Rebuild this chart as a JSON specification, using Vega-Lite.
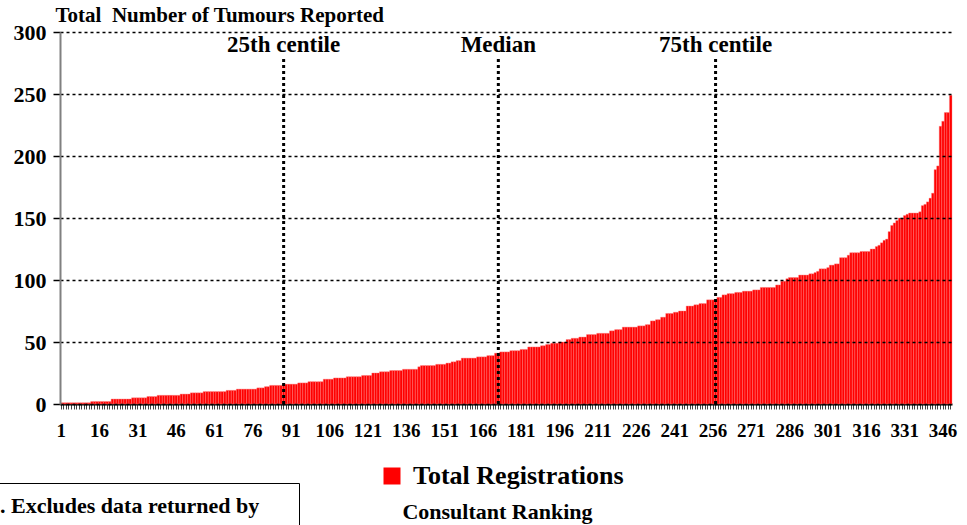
{
"$schema": "https://vega.github.io/schema/vega-lite/v6.json",
"width": 892, "height": 372,
"autosize": {"type": "none"},
"padding": {"left": 60, "top": 32, "right": 15, "bottom": 121},
"background": "white",
"config": {"view": {"stroke": null}, "font": "Liberation Serif"},
"datasets": {
"reg": [
{"rank":1,"total":1},{"rank":2,"total":1},{"rank":3,"total":1},{"rank":4,"total":1},{"rank":5,"total":1},{"rank":6,"total":1},{"rank":7,"total":1},{"rank":8,"total":1},{"rank":9,"total":1},{"rank":10,"total":1},{"rank":11,"total":1},{"rank":12,"total":1},
{"rank":13,"total":2},{"rank":14,"total":2},{"rank":15,"total":2},{"rank":16,"total":2},{"rank":17,"total":2},{"rank":18,"total":2},{"rank":19,"total":2},{"rank":20,"total":2},
{"rank":21,"total":4},{"rank":22,"total":4},{"rank":23,"total":4},{"rank":24,"total":4},{"rank":25,"total":4},{"rank":26,"total":4},{"rank":27,"total":4},{"rank":28,"total":4},
{"rank":29,"total":5},{"rank":30,"total":5},{"rank":31,"total":5},{"rank":32,"total":5},{"rank":33,"total":5},{"rank":34,"total":5},
{"rank":35,"total":6},{"rank":36,"total":6},{"rank":37,"total":6},{"rank":38,"total":6},
{"rank":39,"total":7},{"rank":40,"total":7},{"rank":41,"total":7},{"rank":42,"total":7},{"rank":43,"total":7},{"rank":44,"total":7},{"rank":45,"total":7},{"rank":46,"total":7},{"rank":47,"total":7},
{"rank":48,"total":8},{"rank":49,"total":8},{"rank":50,"total":8},{"rank":51,"total":8},
{"rank":52,"total":9},{"rank":53,"total":9},{"rank":54,"total":9},{"rank":55,"total":9},{"rank":56,"total":9},
{"rank":57,"total":10},{"rank":58,"total":10},{"rank":59,"total":10},{"rank":60,"total":10},{"rank":61,"total":10},{"rank":62,"total":10},{"rank":63,"total":10},{"rank":64,"total":10},{"rank":65,"total":10},
{"rank":66,"total":11},{"rank":67,"total":11},{"rank":68,"total":11},{"rank":69,"total":11},
{"rank":70,"total":12},{"rank":71,"total":12},{"rank":72,"total":12},{"rank":73,"total":12},{"rank":74,"total":12},{"rank":75,"total":12},{"rank":76,"total":12},{"rank":77,"total":12},
{"rank":78,"total":13},{"rank":79,"total":13},{"rank":80,"total":13},
{"rank":81,"total":14},{"rank":82,"total":14},
{"rank":83,"total":15},{"rank":84,"total":15},{"rank":85,"total":15},{"rank":86,"total":15},{"rank":87,"total":15},
{"rank":88,"total":16},{"rank":89,"total":16},{"rank":90,"total":16},{"rank":91,"total":16},{"rank":92,"total":16},{"rank":93,"total":16},
{"rank":94,"total":17},{"rank":95,"total":17},{"rank":96,"total":17},{"rank":97,"total":17},
{"rank":98,"total":18},{"rank":99,"total":18},{"rank":100,"total":18},{"rank":101,"total":18},{"rank":102,"total":18},{"rank":103,"total":18},
{"rank":104,"total":20},{"rank":105,"total":20},{"rank":106,"total":20},{"rank":107,"total":20},
{"rank":108,"total":21},{"rank":109,"total":21},{"rank":110,"total":21},{"rank":111,"total":21},{"rank":112,"total":21},
{"rank":113,"total":22},{"rank":114,"total":22},{"rank":115,"total":22},{"rank":116,"total":22},{"rank":117,"total":22},{"rank":118,"total":22},
{"rank":119,"total":23},{"rank":120,"total":23},{"rank":121,"total":23},{"rank":122,"total":23},
{"rank":123,"total":25},{"rank":124,"total":25},{"rank":125,"total":25},
{"rank":126,"total":26},{"rank":127,"total":26},{"rank":128,"total":26},{"rank":129,"total":26},
{"rank":130,"total":27},{"rank":131,"total":27},{"rank":132,"total":27},{"rank":133,"total":27},{"rank":134,"total":27},
{"rank":135,"total":28},{"rank":136,"total":28},{"rank":137,"total":28},{"rank":138,"total":28},{"rank":139,"total":28},{"rank":140,"total":28},
{"rank":141,"total":30},
{"rank":142,"total":31},{"rank":143,"total":31},{"rank":144,"total":31},{"rank":145,"total":31},{"rank":146,"total":31},{"rank":147,"total":31},
{"rank":148,"total":32},{"rank":149,"total":32},{"rank":150,"total":32},{"rank":151,"total":32},
{"rank":152,"total":33},{"rank":153,"total":33},
{"rank":154,"total":34},{"rank":155,"total":34},
{"rank":156,"total":35},{"rank":157,"total":35},
{"rank":158,"total":37},{"rank":159,"total":37},{"rank":160,"total":37},{"rank":161,"total":37},{"rank":162,"total":37},{"rank":163,"total":37},
{"rank":164,"total":38},{"rank":165,"total":38},{"rank":166,"total":38},{"rank":167,"total":38},
{"rank":168,"total":39},{"rank":169,"total":39},{"rank":170,"total":39},
{"rank":171,"total":41},{"rank":172,"total":41},
{"rank":173,"total":42},{"rank":174,"total":42},{"rank":175,"total":42},{"rank":176,"total":42},
{"rank":177,"total":43},{"rank":178,"total":43},{"rank":179,"total":43},{"rank":180,"total":43},
{"rank":181,"total":44},{"rank":182,"total":44},{"rank":183,"total":44},
{"rank":184,"total":46},{"rank":185,"total":46},{"rank":186,"total":46},{"rank":187,"total":46},{"rank":188,"total":46},
{"rank":189,"total":47},{"rank":190,"total":47},
{"rank":191,"total":48},{"rank":192,"total":48},
{"rank":193,"total":49},{"rank":194,"total":49},{"rank":195,"total":49},
{"rank":196,"total":50},{"rank":197,"total":50},{"rank":198,"total":50},
{"rank":199,"total":52},{"rank":200,"total":52},
{"rank":201,"total":53},{"rank":202,"total":53},{"rank":203,"total":53},
{"rank":204,"total":54},{"rank":205,"total":54},{"rank":206,"total":54},
{"rank":207,"total":56},{"rank":208,"total":56},{"rank":209,"total":56},{"rank":210,"total":56},
{"rank":211,"total":57},{"rank":212,"total":57},{"rank":213,"total":57},{"rank":214,"total":57},{"rank":215,"total":57},
{"rank":216,"total":59},{"rank":217,"total":59},
{"rank":218,"total":60},{"rank":219,"total":60},{"rank":220,"total":60},
{"rank":221,"total":62},{"rank":222,"total":62},{"rank":223,"total":62},{"rank":224,"total":62},{"rank":225,"total":62},{"rank":226,"total":62},
{"rank":227,"total":63},{"rank":228,"total":63},{"rank":229,"total":63},
{"rank":230,"total":64},{"rank":231,"total":64},
{"rank":232,"total":67},{"rank":233,"total":67},
{"rank":234,"total":68},{"rank":235,"total":68},
{"rank":236,"total":70},{"rank":237,"total":70},
{"rank":238,"total":73},{"rank":239,"total":73},{"rank":240,"total":73},
{"rank":241,"total":74},{"rank":242,"total":74},
{"rank":243,"total":75},{"rank":244,"total":75},{"rank":245,"total":75},
{"rank":246,"total":79},{"rank":247,"total":79},{"rank":248,"total":79},
{"rank":249,"total":80},{"rank":250,"total":80},
{"rank":251,"total":81},{"rank":252,"total":81},{"rank":253,"total":81},
{"rank":254,"total":84},{"rank":255,"total":84},{"rank":256,"total":84},{"rank":257,"total":84},
{"rank":258,"total":86},{"rank":259,"total":86},
{"rank":260,"total":88},{"rank":261,"total":88},
{"rank":262,"total":89},{"rank":263,"total":89},{"rank":264,"total":89},
{"rank":265,"total":90},{"rank":266,"total":90},{"rank":267,"total":90},
{"rank":268,"total":91},{"rank":269,"total":91},{"rank":270,"total":91},{"rank":271,"total":91},
{"rank":272,"total":92},{"rank":273,"total":92},{"rank":274,"total":92},
{"rank":275,"total":94},{"rank":276,"total":94},{"rank":277,"total":94},{"rank":278,"total":94},{"rank":279,"total":94},{"rank":280,"total":94},
{"rank":281,"total":96},{"rank":282,"total":96},
{"rank":283,"total":99},{"rank":284,"total":99},
{"rank":285,"total":101},
{"rank":286,"total":102},{"rank":287,"total":102},{"rank":288,"total":102},{"rank":289,"total":102},
{"rank":290,"total":104},{"rank":291,"total":104},{"rank":292,"total":104},{"rank":293,"total":104},
{"rank":294,"total":105},{"rank":295,"total":105},
{"rank":296,"total":106},
{"rank":297,"total":107},
{"rank":298,"total":109},{"rank":299,"total":109},{"rank":300,"total":109},
{"rank":301,"total":110},
{"rank":302,"total":112},{"rank":303,"total":112},
{"rank":304,"total":113},{"rank":305,"total":113},
{"rank":306,"total":118},{"rank":307,"total":118},{"rank":308,"total":118},
{"rank":309,"total":120},
{"rank":310,"total":122},{"rank":311,"total":122},{"rank":312,"total":122},{"rank":313,"total":122},
{"rank":314,"total":123},{"rank":315,"total":123},{"rank":316,"total":123},{"rank":317,"total":123},
{"rank":318,"total":125},{"rank":319,"total":125},
{"rank":320,"total":127},
{"rank":321,"total":128},
{"rank":322,"total":130},
{"rank":323,"total":132},
{"rank":324,"total":133},
{"rank":325,"total":139},
{"rank":326,"total":144},
{"rank":327,"total":146},
{"rank":328,"total":148},
{"rank":329,"total":150},{"rank":330,"total":150},
{"rank":331,"total":152},
{"rank":332,"total":153},
{"rank":333,"total":154},{"rank":334,"total":154},{"rank":335,"total":154},{"rank":336,"total":154},
{"rank":337,"total":155},
{"rank":338,"total":160},
{"rank":339,"total":161},
{"rank":340,"total":163},
{"rank":341,"total":166},
{"rank":342,"total":170},
{"rank":343,"total":189},
{"rank":344,"total":192},
{"rank":345,"total":224},
{"rank":346,"total":228},
{"rank":347,"total":235},
{"rank":348,"total":235},
{"rank":349,"total":249}
],
"centiles": [
{"rank":88,"label":"25th centile"},
{"rank":172,"label":"Median"},
{"rank":257,"label":"75th centile"}
],
"note": [{"note":". Excludes data returned by"}]
},
"layer": [
{
"data": {"name": "reg"},
"mark": {"type": "bar", "stroke": "#ff8080", "strokeWidth": 0.4},
"encoding": {
"x": {"field": "rank", "type": "ordinal",
"scale": {"paddingInner": 0, "paddingOuter": 0},
"axis": {"labelExpr": "(datum.value - 1) % 15 == 0 ? datum.label : ''", "labelOverlap": false, "labelAngle": 0,
"labelFontSize": 19, "labelFontWeight": "bold", "labelColor": "black", "labelPadding": 12,
"tickSize": 5, "tickColor": "#444", "tickWidth": 1, "domainColor": "black", "domainWidth": 2,
"title": "Consultant Ranking", "titleFontSize": 22, "titleFontWeight": "bold", "titleColor": "black",
"titleX": 437, "titleY": 114, "titleBaseline": "alphabetic", "titleAlign": "center"}},
"y": {"field": "total", "type": "quantitative",
"scale": {"domain": [0, 300], "nice": false},
"axis": {"values": [0, 50, 100, 150, 200, 250, 300], "zindex": 1,
"labelFontSize": 22, "labelFontWeight": "bold", "labelColor": "black", "labelPadding": 7,
"tickSize": 7, "tickColor": "black", "tickWidth": 1.5, "domainColor": "#808080", "domainWidth": 2,
"grid": true, "gridColor": "black", "gridDash": [3, 3], "gridWidth": 1.5,
"title": "Total\u00a0 Number of Tumours Reported", "titleFontSize": 21, "titleFontWeight": "bold", "titleColor": "black",
"titleAngle": 0, "titleX": -5, "titleY": -11, "titleAlign": "left", "titleBaseline": "alphabetic"}},
"color": {"datum": "Total Registrations", "type": "nominal", "scale": {"range": ["#ff0000"]},
"legend": {"title": null, "orient": "none", "legendX": 319, "legendY": 431, "symbolType": "square", "symbolSize": 289,
"symbolStrokeWidth": 0, "labelFontSize": 26, "labelFontWeight": "bold", "labelColor": "black", "labelOffset": 8, "padding": 0, "labelLimit": 1000}}
}
},
{
"data": {"name": "centiles"},
"mark": {"type": "rule", "strokeDash": [3, 3], "strokeWidth": 3, "color": "black"},
"encoding": {"x": {"field": "rank", "type": "ordinal"}, "y": {"datum": 0}, "y2": {"datum": 280}}
},
{
"data": {"name": "centiles"},
"mark": {"type": "text", "fontSize": 23, "fontWeight": "bold", "baseline": "alphabetic", "color": "black"},
"encoding": {"x": {"field": "rank", "type": "ordinal"}, "y": {"datum": 284}, "text": {"field": "label"}}
},
{
"data": {"name": "note"},
"mark": {"type": "point", "opacity": 0},
"encoding": {"shape": {"field": "note", "type": "nominal",
"legend": {"title": null, "orient": "none", "legendX": -94, "legendY": 451, "padding": 12,
"strokeColor": "black", "symbolOpacity": 0, "symbolSize": 0, "symbolStrokeWidth": 0, "labelOffset": 0,
"labelFontSize": 22, "labelFontWeight": "bold", "labelColor": "black", "labelLimit": 1000,
"labelExpr": "[datum.label + '\u00a0\u00a0\u2800', ' ']"}}}
}
]
}
